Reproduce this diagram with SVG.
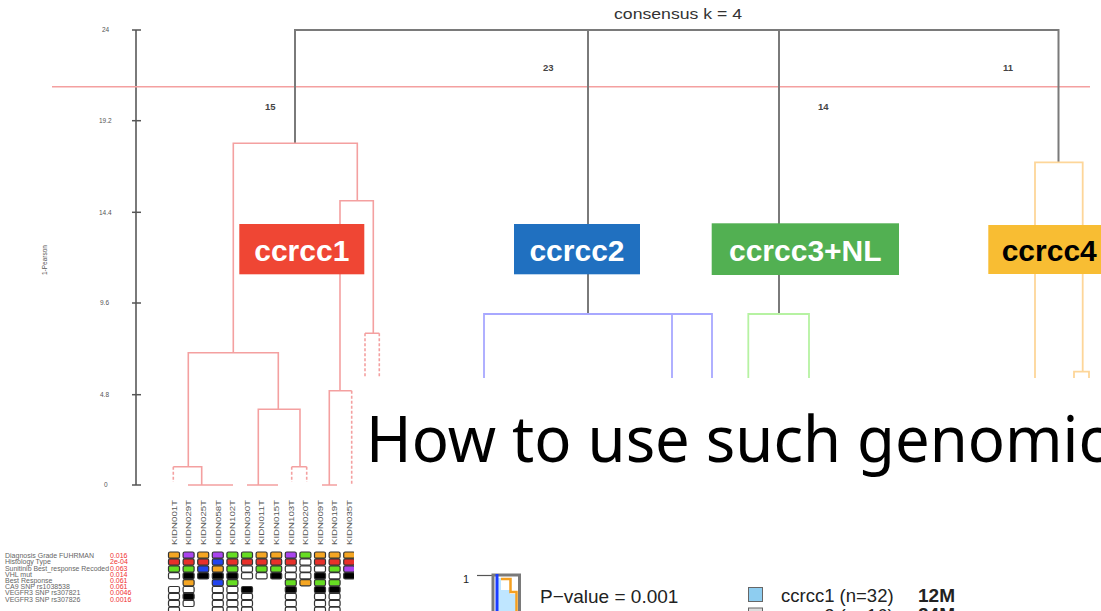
<svg xmlns="http://www.w3.org/2000/svg" width="1101" height="611" viewBox="0 0 1101 611">
<style>
.g{stroke:#7a7a7a;stroke-width:2;fill:none}
.r{stroke:#f4a0a0;stroke-width:1.6;fill:none}
.rd{stroke:#f4a0a0;stroke-width:1.6;fill:none;stroke-dasharray:3 2}
.b{stroke:#a8a8ff;stroke-width:1.8;fill:none}
.gr{stroke:#b6f2a2;stroke-width:1.8;fill:none}
.o{stroke:#fdd699;stroke-width:1.8;fill:none}
.ax{font-family:'Liberation Sans',Arial,sans-serif;font-size:6.5px;fill:#555}
.num{font-family:'Liberation Sans',Arial,sans-serif;font-size:9.5px;font-weight:bold;fill:#444}
.lbl{font-family:'Liberation Sans',Arial,sans-serif;font-size:30px;font-weight:bold;fill:#fff;text-anchor:middle}
.sl{font-family:'Liberation Sans',Arial,sans-serif;font-size:7px;fill:#555}
.lg{font-family:'Liberation Sans',Arial,sans-serif;font-size:7px;fill:#666}
.pv{font-family:'Liberation Sans',Arial,sans-serif;font-size:7px;fill:#f03030}
.c{stroke:#333;stroke-width:1.2}
.cO{fill:#f5a623}.cR{fill:#e8302a}.cG{fill:#66dd22}.cB{fill:#2244ee}.cP{fill:#aa44ee}.cK{fill:#000}.cW{fill:#fff}
.t{font-family:'Liberation Sans',Arial,sans-serif;fill:#222}
</style>

<g id="axis">
<line class="g" x1="136" y1="30" x2="136" y2="485"/>
<g stroke="#555" stroke-width="1.5">
<line x1="132" y1="30" x2="141" y2="30"/><line x1="132" y1="120.7" x2="141" y2="120.7"/>
<line x1="132" y1="212.3" x2="141" y2="212.3"/><line x1="132" y1="303" x2="141" y2="303"/>
<line x1="132" y1="394.7" x2="141" y2="394.7"/><line x1="132" y1="485" x2="141" y2="485"/>
</g>
<text class="ax" x="102" y="32">24</text>
<text class="ax" x="99" y="123">19.2</text>
<text class="ax" x="99" y="214.5">14.4</text>
<text class="ax" x="100" y="305">9.6</text>
<text class="ax" x="100" y="397">4.8</text>
<text class="ax" x="104" y="487">0</text>
<text class="ax" transform="translate(47,275) rotate(-90)">1-Pearson</text>
</g>

<text x="678" y="19" text-anchor="middle" font-family="'Liberation Sans',Arial,sans-serif" font-size="15" fill="#333" textLength="128" lengthAdjust="spacingAndGlyphs">consensus k = 4</text>

<g id="connectors">
<line x1="52" y1="86.7" x2="1090" y2="86.7" stroke="#f4a0a0" stroke-width="1.6"/>
<path class="g" d="M295,143.3 V30 H1058.5 V162.3 M588,30 V314 M779,30 V314"/>
<text class="num" x="265" y="110">15</text>
<text class="num" x="543" y="71">23</text>
<text class="num" x="818" y="110">14</text>
<text class="num" x="1003" y="71">11</text>
<!-- red cluster -->
<path class="r" d="M233.3,352.7 V143.3 H357.3 V200.7 M340,390.7 V200.7 H373.3 V333.3 M365,333.3 H379.3 M188.3,466.7 V352.7 H278.3 V409.3 M258.3,485 V409.3 H300 V466.7 M173.3,466.7 H201.7 V485 M291.7,466.7 H306.7 M329.3,485 V390.7 H351.7 M188,485 H233 M247,485 H278 M322,485 H337"/>
<path class="rd" d="M173.3,466.7 V482 M291.7,466.7 V482 M306.7,466.7 V482 M351.7,390.7 V485 M365,333.3 V377 M379.3,333.3 V377"/>
<!-- blue cluster -->
<path class="b" d="M484,378 V314 H712 V378 M672,314 V378"/>
<!-- green cluster -->
<path class="gr" d="M748.3,378 V314 H809 V378"/>
<!-- orange cluster -->
<path class="o" d="M1035,378 V162.3 H1082.7 V371.7 M1074,378 V371.7 H1089 V378"/>
</g>

<g id="ccrcc1"><rect x="239.3" y="224" width="125" height="50.3" fill="#ef4634"/><text class="lbl" x="301.8" y="261">ccrcc1</text></g>
<g id="ccrcc2"><rect x="514" y="224" width="126" height="50.3" fill="#2070c0"/><text class="lbl" x="577" y="261">ccrcc2</text></g>
<g id="ccrcc3NL"><rect x="711.7" y="223.3" width="187.3" height="51.7" fill="#52b052"/><text class="lbl" x="805.3" y="261">ccrcc3+NL</text></g>
<g id="ccrcc4"><rect x="988.3" y="225" width="120" height="49" fill="#f8bd33"/><text class="lbl" x="1001.7" y="261" style="text-anchor:start;fill:#000">ccrcc4</text></g>

<g id="samples">
<text class="sl" transform="translate(176.8,545) rotate(-90)" textLength="45" lengthAdjust="spacingAndGlyphs">KIDN001T</text>
<text class="sl" transform="translate(191.4,545) rotate(-90)" textLength="45" lengthAdjust="spacingAndGlyphs">KIDN029T</text>
<text class="sl" transform="translate(206,545) rotate(-90)" textLength="45" lengthAdjust="spacingAndGlyphs">KIDN025T</text>
<text class="sl" transform="translate(220.6,545) rotate(-90)" textLength="45" lengthAdjust="spacingAndGlyphs">KIDN058T</text>
<text class="sl" transform="translate(235.2,545) rotate(-90)" textLength="45" lengthAdjust="spacingAndGlyphs">KIDN102T</text>
<text class="sl" transform="translate(249.8,545) rotate(-90)" textLength="45" lengthAdjust="spacingAndGlyphs">KIDN030T</text>
<text class="sl" transform="translate(264.4,545) rotate(-90)" textLength="45" lengthAdjust="spacingAndGlyphs">KIDN011T</text>
<text class="sl" transform="translate(279,545) rotate(-90)" textLength="45" lengthAdjust="spacingAndGlyphs">KIDN015T</text>
<text class="sl" transform="translate(293.6,545) rotate(-90)" textLength="45" lengthAdjust="spacingAndGlyphs">KIDN103T</text>
<text class="sl" transform="translate(308.2,545) rotate(-90)" textLength="45" lengthAdjust="spacingAndGlyphs">KIDN020T</text>
<text class="sl" transform="translate(322.8,545) rotate(-90)" textLength="45" lengthAdjust="spacingAndGlyphs">KIDN009T</text>
<text class="sl" transform="translate(337.4,545) rotate(-90)" textLength="45" lengthAdjust="spacingAndGlyphs">KIDN019T</text>
<text class="sl" transform="translate(352,545) rotate(-90)" textLength="45" lengthAdjust="spacingAndGlyphs">KIDN035T</text>
</g>

<g id="legend-left">
<text class="lg" x="5" y="558">Diagnosis Grade FUHRMAN</text><text class="pv" x="110" y="558">0.016</text>
<text class="lg" x="5" y="564.2">Histology Type</text><text class="pv" x="110" y="564.2">2e-04</text>
<text class="lg" x="5" y="570.6" textLength="104" lengthAdjust="spacingAndGlyphs">Sunitinib Best_response Recoded</text><text class="pv" x="110" y="570.6">0.063</text>
<text class="lg" x="5" y="576.8">VHL mut</text><text class="pv" x="110" y="576.8">0.014</text>
<text class="lg" x="5" y="583">Best Response</text><text class="pv" x="110" y="583">0.061</text>
<text class="lg" x="5" y="589.2">CA9 SNP rs1038538</text><text class="pv" x="110" y="589.2">0.061</text>
<text class="lg" x="5" y="595.4">VEGFR3 SNP rs307821</text><text class="pv" x="110" y="595.4">0.0046</text>
<text class="lg" x="5" y="601.6">VEGFR3 SNP rs307826</text><text class="pv" x="110" y="601.6">0.0016</text>
</g>

<g id="annotation-cells" class="c">
<rect class="cO" x="168.5" y="552" width="11" height="6.2" rx="1.5"/><rect class="cR" x="168.5" y="558.9" width="11" height="6.2" rx="1.5"/><rect class="cG" x="168.5" y="565.8" width="11" height="6.2" rx="1.5"/><rect class="cW" x="168.5" y="572.7" width="11" height="6.2" rx="1.5"/>
<rect class="cW" x="168.5" y="586.5" width="11" height="6.2" rx="1.5"/><rect class="cW" x="168.5" y="593.4" width="11" height="6.2" rx="1.5"/><rect class="cW" x="168.5" y="600.3" width="11" height="6.2" rx="1.5"/><rect class="cW" x="168.5" y="607.2" width="11" height="6.2" rx="1.5"/>
<rect class="cP" x="183.1" y="552" width="11" height="6.2" rx="1.5"/><rect class="cR" x="183.1" y="558.9" width="11" height="6.2" rx="1.5"/><rect class="cG" x="183.1" y="565.8" width="11" height="6.2" rx="1.5"/><rect class="cK" x="183.1" y="572.7" width="11" height="6.2" rx="1.5"/>
<rect class="cO" x="183.1" y="579.6" width="11" height="6.2" rx="1.5"/><rect class="cW" x="183.1" y="586.5" width="11" height="6.2" rx="1.5"/><rect class="cK" x="183.1" y="593.4" width="11" height="6.2" rx="1.5"/><rect class="cW" x="183.1" y="600.3" width="11" height="6.2" rx="1.5"/>
<rect class="cO" x="197.7" y="552" width="11" height="6.2" rx="1.5"/><rect class="cR" x="197.7" y="558.9" width="11" height="6.2" rx="1.5"/><rect class="cB" x="197.7" y="565.8" width="11" height="6.2" rx="1.5"/><rect class="cK" x="197.7" y="572.7" width="11" height="6.2" rx="1.5"/>
<rect class="cP" x="212.3" y="552" width="11" height="6.2" rx="1.5"/><rect class="cB" x="212.3" y="558.9" width="11" height="6.2" rx="1.5"/><rect class="cO" x="212.3" y="565.8" width="11" height="6.2" rx="1.5"/><rect class="cK" x="212.3" y="572.7" width="11" height="6.2" rx="1.5"/>
<rect class="cB" x="212.3" y="579.6" width="11" height="6.2" rx="1.5"/><rect class="cW" x="212.3" y="586.5" width="11" height="6.2" rx="1.5"/><rect class="cW" x="212.3" y="593.4" width="11" height="6.2" rx="1.5"/><rect class="cW" x="212.3" y="600.3" width="11" height="6.2" rx="1.5"/><rect class="cW" x="212.3" y="607.2" width="11" height="6.2" rx="1.5"/>
<rect class="cG" x="226.9" y="552" width="11" height="6.2" rx="1.5"/><rect class="cR" x="226.9" y="558.9" width="11" height="6.2" rx="1.5"/><rect class="cG" x="226.9" y="565.8" width="11" height="6.2" rx="1.5"/><rect class="cK" x="226.9" y="572.7" width="11" height="6.2" rx="1.5"/>
<rect class="cG" x="226.9" y="579.6" width="11" height="6.2" rx="1.5"/><rect class="cW" x="226.9" y="586.5" width="11" height="6.2" rx="1.5"/><rect class="cW" x="226.9" y="593.4" width="11" height="6.2" rx="1.5"/><rect class="cW" x="226.9" y="600.3" width="11" height="6.2" rx="1.5"/><rect class="cW" x="226.9" y="607.2" width="11" height="6.2" rx="1.5"/>
<rect class="cG" x="241.5" y="552" width="11" height="6.2" rx="1.5"/><rect class="cR" x="241.5" y="558.9" width="11" height="6.2" rx="1.5"/><rect class="cW" x="241.5" y="565.8" width="11" height="6.2" rx="1.5"/><rect class="cW" x="241.5" y="572.7" width="11" height="6.2" rx="1.5"/>
<rect class="cK" x="241.5" y="586.5" width="11" height="6.2" rx="1.5"/><rect class="cW" x="241.5" y="593.4" width="11" height="6.2" rx="1.5"/><rect class="cW" x="241.5" y="600.3" width="11" height="6.2" rx="1.5"/><rect class="cW" x="241.5" y="607.2" width="11" height="6.2" rx="1.5"/>
<rect class="cO" x="256.1" y="552" width="11" height="6.2" rx="1.5"/><rect class="cR" x="256.1" y="558.9" width="11" height="6.2" rx="1.5"/><rect class="cG" x="256.1" y="565.8" width="11" height="6.2" rx="1.5"/><rect class="cW" x="256.1" y="572.7" width="11" height="6.2" rx="1.5"/>
<rect class="cO" x="270.7" y="552" width="11" height="6.2" rx="1.5"/><rect class="cR" x="270.7" y="558.9" width="11" height="6.2" rx="1.5"/><rect class="cG" x="270.7" y="565.8" width="11" height="6.2" rx="1.5"/><rect class="cK" x="270.7" y="572.7" width="11" height="6.2" rx="1.5"/>
<rect class="cP" x="285.3" y="552" width="11" height="6.2" rx="1.5"/><rect class="cR" x="285.3" y="558.9" width="11" height="6.2" rx="1.5"/><rect class="cW" x="285.3" y="565.8" width="11" height="6.2" rx="1.5"/><rect class="cW" x="285.3" y="572.7" width="11" height="6.2" rx="1.5"/>
<rect class="cG" x="285.3" y="579.6" width="11" height="6.2" rx="1.5"/><rect class="cK" x="285.3" y="586.5" width="11" height="6.2" rx="1.5"/><rect class="cW" x="285.3" y="593.4" width="11" height="6.2" rx="1.5"/><rect class="cW" x="285.3" y="600.3" width="11" height="6.2" rx="1.5"/><rect class="cW" x="285.3" y="607.2" width="11" height="6.2" rx="1.5"/>
<rect class="cG" x="299.9" y="552" width="11" height="6.2" rx="1.5"/><rect class="cW" x="299.9" y="558.9" width="11" height="6.2" rx="1.5"/><rect class="cW" x="299.9" y="565.8" width="11" height="6.2" rx="1.5"/><rect class="cW" x="299.9" y="572.7" width="11" height="6.2" rx="1.5"/>
<rect class="cO" x="299.9" y="579.6" width="11" height="6.2" rx="1.5"/>
<rect class="cO" x="314.5" y="552" width="11" height="6.2" rx="1.5"/><rect class="cR" x="314.5" y="558.9" width="11" height="6.2" rx="1.5"/><rect class="cW" x="314.5" y="565.8" width="11" height="6.2" rx="1.5"/><rect class="cK" x="314.5" y="572.7" width="11" height="6.2" rx="1.5"/>
<rect class="cG" x="314.5" y="579.6" width="11" height="6.2" rx="1.5"/><rect class="cK" x="314.5" y="586.5" width="11" height="6.2" rx="1.5"/><rect class="cW" x="314.5" y="593.4" width="11" height="6.2" rx="1.5"/><rect class="cW" x="314.5" y="600.3" width="11" height="6.2" rx="1.5"/><rect class="cW" x="314.5" y="607.2" width="11" height="6.2" rx="1.5"/>
<rect class="cO" x="329.1" y="552" width="11" height="6.2" rx="1.5"/><rect class="cR" x="329.1" y="558.9" width="11" height="6.2" rx="1.5"/><rect class="cG" x="329.1" y="565.8" width="11" height="6.2" rx="1.5"/><rect class="cW" x="329.1" y="572.7" width="11" height="6.2" rx="1.5"/>
<rect class="cG" x="329.1" y="579.6" width="11" height="6.2" rx="1.5"/><rect class="cK" x="329.1" y="586.5" width="11" height="6.2" rx="1.5"/><rect class="cW" x="329.1" y="593.4" width="11" height="6.2" rx="1.5"/><rect class="cW" x="329.1" y="600.3" width="11" height="6.2" rx="1.5"/><rect class="cW" x="329.1" y="607.2" width="11" height="6.2" rx="1.5"/>
<rect class="cO" x="343.7" y="552" width="11" height="6.2" rx="1.5"/><rect class="cR" x="343.7" y="558.9" width="11" height="6.2" rx="1.5"/><rect class="cP" x="343.7" y="565.8" width="11" height="6.2" rx="1.5"/><rect class="cK" x="343.7" y="572.7" width="11" height="6.2" rx="1.5"/>
</g>

<rect x="354" y="378" width="747" height="233" fill="#fff"/>

<text x="366" y="462" font-family="'Noto Sans','Open Sans',sans-serif" font-size="64" fill="#000" textLength="742" lengthAdjust="spacingAndGlyphs">How to use such genomic</text>

<g id="km-plot">
<text class="t" x="463" y="583" font-size="11">1</text>
<line x1="477" y1="575.5" x2="494" y2="575.5" stroke="#555" stroke-width="1.2"/>
<polygon points="498,578 501,578 501,590 510,590 510,594 516,594 516,611 498,611" fill="#bfe6ff"/>
<path d="M493,611 V575 H519.5 V611" fill="none" stroke="#7a7a7a" stroke-width="3"/>
<path d="M501,579 H510.5 V592 H516.5 V611" fill="none" stroke="#f5a020" stroke-width="2.5"/>
<line x1="497" y1="574" x2="497" y2="611" stroke="#1a3cff" stroke-width="3"/>
<text class="t" x="540" y="603" font-size="19">P−value = 0.001</text>
</g>

<g id="km-legend">
<rect x="748.5" y="587.5" width="14" height="14" fill="#8ecdf0" stroke="#666" stroke-width="1"/>
<text class="t" x="781" y="602" font-size="18.5">ccrcc1 (n=32)</text>
<text class="t" x="918" y="602" font-size="19" font-weight="bold">12M</text>
<rect x="748.5" y="608" width="14" height="14" fill="#ddd" stroke="#666" stroke-width="1"/>
<text class="t" x="781" y="622" font-size="18.5">ccrcc2 (n=16)</text>
<text class="t" x="918" y="621" font-size="19" font-weight="bold">24M</text>
</g>
</svg>
